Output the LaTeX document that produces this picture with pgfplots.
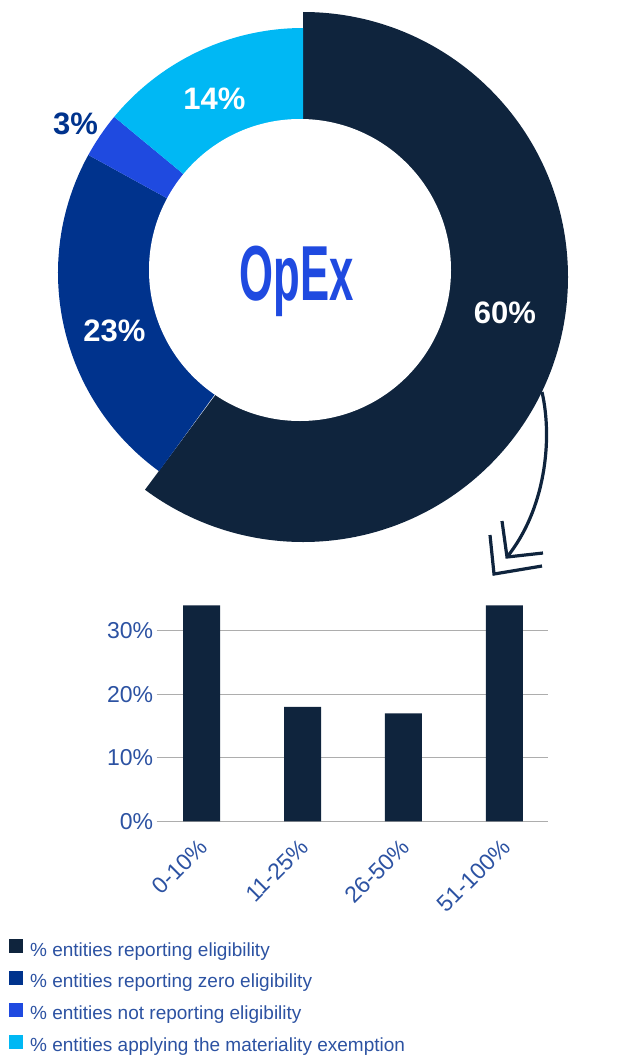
\documentclass[border=0pt]{standalone}
\usepackage{fontspec}
\setmainfont{Liberation Sans}
\usepackage{graphicx}
\usepackage{pgfplots}
\pgfplotsset{compat=1.18}
\usetikzlibrary{calc}
\definecolor{navy}{HTML}{0F243D}
\definecolor{zeroblue}{HTML}{00338D}
\definecolor{notrep}{HTML}{1F4AE0}
\definecolor{cyanex}{HTML}{00B8F4}
\definecolor{txtblue}{HTML}{2C52A2}
\pgfplotsset{sq/.style={legend image code/.code={\fill[#1] (0pt,-1pt) rectangle (12.4pt,11.4pt);}}}
% pie shares (percent), clockwise from 12 o'clock
\def\pA{60}\def\pB{23}\def\pC{3}\def\pD{14}
\begin{document}
\begin{tikzpicture}
\pgfmathsetmacro{\aA}{90-\pA*3.6}
\pgfmathsetmacro{\aB}{\aA-\pB*3.6}
\pgfmathsetmacro{\aC}{\aB-\pC*3.6}
\pgfmathsetmacro{\aD}{\aC-\pD*3.6}
\pgfmathsetmacro{\aAx}{\aA-0.6}
\begin{axis}[name=canvas, at={(0,0)}, anchor=north west, scale only axis,
  width=625pt, height=1057pt, xmin=0, xmax=625, ymin=-1057, ymax=0,
  hide axis, clip=false,
  legend style={at={(0.0149,0.1112)}, anchor=north west, draw=none, fill=none,
    inner sep=0pt, outer sep=0pt, row sep=11.3pt, column sep=8pt,
    font=\fontsize{19}{23}\selectfont, text=txtblue,
    nodes={inner sep=0pt, text height=14pt, text depth=4pt}},
  legend cell align=left]
\coordinate (C) at (axis cs:303,-273);
\coordinate (C2) at (axis cs:303,-277);
% 60% segment (exploded, larger)
\fill[navy] ($(C2)+(90:265pt)$) arc[start angle=90, end angle=\aAx, radius=265pt] -- (C2) -- cycle;
\fill[zeroblue] ($(C)+(\aA:245pt)$) arc[start angle=\aA, end angle=\aB, radius=245pt] -- (C) -- cycle;
\fill[notrep] ($(C)+(\aB:245pt)$) arc[start angle=\aB, end angle=\aC, radius=245pt] -- (C) -- cycle;
\fill[cyanex] ($(C)+(\aC:245pt)$) arc[start angle=\aC, end angle=\aD, radius=245pt] -- (C) -- cycle;
\fill[white] (axis cs:300,-270) circle[radius=151pt];
\node[text=notrep, anchor=base] at (axis cs:297,-300) {\scalebox{0.56}[1]{\fontsize{78}{78}\selectfont\bfseries OpEx}};
\node[text=white, font=\bfseries\fontsize{31}{31}\selectfont] at (axis cs:505,-313) {60\%};
\node[text=white, font=\bfseries\fontsize{31}{31}\selectfont] at (axis cs:114.5,-331) {23\%};
\node[text=zeroblue, font=\bfseries\fontsize{31}{31}\selectfont] at (axis cs:75.6,-124) {3\%};
\node[text=white, font=\bfseries\fontsize{31}{31}\selectfont] at (axis cs:214.5,-99) {14\%};
% arrow
\draw[navy, line width=3.2pt] (axis cs:542,-392) .. controls (axis cs:553,-440) and (axis cs:545,-510) .. (axis cs:507,-557);
\draw[navy, line width=3.2pt] (axis cs:502,-521) -- (axis cs:507,-557) -- (axis cs:543,-553);
\draw[navy, line width=3.2pt] (axis cs:490,-535) -- (axis cs:494,-574) -- (axis cs:542,-566);
% legend
\addlegendimage{sq=navy}\addlegendentry{\% entities reporting eligibility}
\addlegendimage{sq=zeroblue}\addlegendentry{\% entities reporting zero eligibility}
\addlegendimage{sq=notrep}\addlegendentry{\% entities not reporting eligibility}
\addlegendimage{sq=cyanex}\addlegendentry{\% entities applying the materiality exemption}
\end{axis}
\begin{axis}[at={(156.7pt,-821.3pt)}, anchor=south west, scale only axis,
  width=391.6pt, height=222.3pt, xmin=-0.444, xmax=3.434, ymin=0, ymax=35,
  axis line style={draw=none}, major tick style={draw=none},
  ytick={0,10,20,30}, ymajorgrids, grid style={color=black!32, line width=1pt},
  xtick={0,1,2,3}, xticklabels={0-10\%,11-25\%,26-50\%,51-100\%},
  /pgf/number format/assume math mode=true,
  yticklabel={\pgfmathprintnumber{\tick}\%},
  ticklabel style={font=\fontsize{23}{27}\selectfont, text=txtblue},
  xticklabel style={anchor=north east, xshift=-4pt, yshift=-11pt, rotate=45}]
\addplot[ybar, bar width=37pt, fill=navy, draw=none] coordinates {(0,34) (1,18) (2,17) (3,34)};
\end{axis}
\pgfresetboundingbox
\path[use as bounding box] (0,0) rectangle (625pt,-1057pt);
\end{tikzpicture}
\end{document}
